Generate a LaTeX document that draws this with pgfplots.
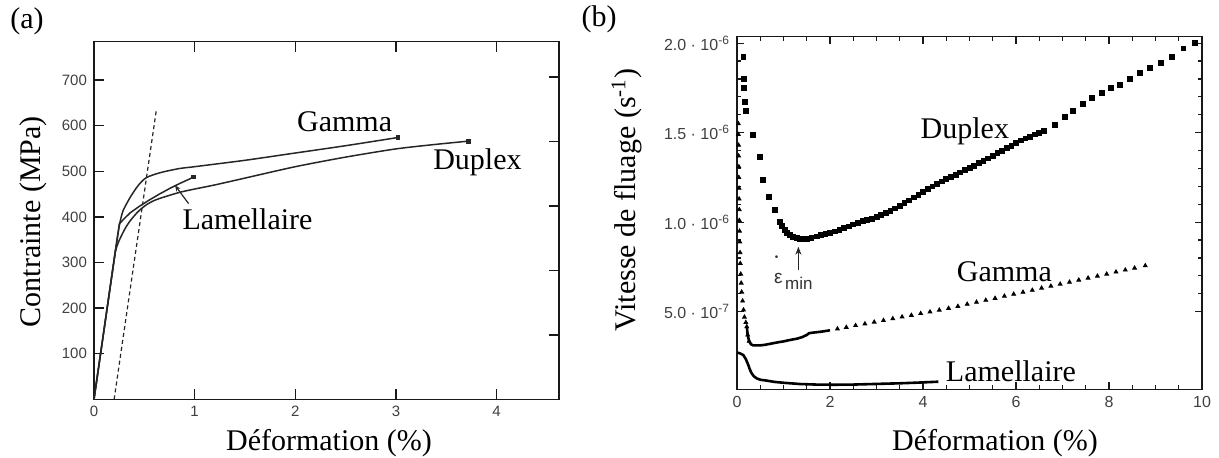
\documentclass[border=0pt]{standalone}
\usepackage{fontspec}
\setmainfont{Liberation Serif}
\setsansfont{Liberation Sans}
\usepackage{pgfplots}
\pgfplotsset{compat=1.18}
\usetikzlibrary{arrows.meta}
\newcommand{\bigtxt}{\fontsize{15}{18}\selectfont}
\begin{document}
\begin{tikzpicture}
\useasboundingbox (0,0) rectangle (609.5pt,228.5pt);
% ---------------- Panel (a) ----------------
\begin{axis}[at={(47pt,28.85pt)}, anchor=south west, scale only axis,
  width=232.5pt, height=178.8pt,
  xmin=0, xmax=4.62, ymin=0, ymax=784,
  xtick={0,1,2,3,4}, ytick={100,200,...,700},
  xtick pos=both, ytick pos=left, tick align=inside,
  major tick length=5pt,
  axis line style={line width=0.7pt, black!90},
  tick style={line width=0.7pt, black!90},
  tick label style={font=\fontsize{7.5}{9}\sffamily\selectfont, text=black!75},
  /pgf/number format/assume math mode=true,
  clip=false]
\addplot[black!85, line width=0.6pt, dashed, dash pattern=on 2pt off 1.5pt] coordinates {(0.2,0) (0.62,635)};
\addplot[black!85, line width=0.75pt, smooth, tension=0.45] coordinates {
(0,0) (0.2,306) (0.24,365) (0.26,390) (0.29,414) (0.36,443) (0.44,469) (0.52,486) (0.66,497) (0.85,506) (1.0,510) (1.5,524) (2.0,540) (2.5,556) (3.02,574)};
\addplot[black!85, line width=0.75pt, smooth, tension=0.45] coordinates {
(0,0) (0.2,306) (0.215,326) (0.235,340) (0.258,352) (0.308,374) (0.358,391) (0.44,412) (0.524,427) (0.6,436) (0.689,443) (0.855,454) (1.0,461) (1.2,470) (1.5,485) (2.0,510) (2.5,531) (3.0,549) (3.4,559) (3.72,566)};
\addplot[black!85, line width=0.75pt] coordinates {
(0,0) (0.2,306) (0.252,385) (0.3,396) (0.36,409) (0.45,423) (0.55,437) (0.65,450) (0.75,462) (0.85,473) (0.95,483) (0.99,488)};
\addplot[only marks, mark=square*, mark size=0.9pt, black!85] coordinates {(3.02,574) (3.72,566) (0.99,488)};
\draw[black!85, line width=0.6pt, -{Stealth[length=3pt,width=2.5pt]}] (axis cs:0.94,429) -- (axis cs:0.805,469);
\node[font=\bigtxt] at (axis cs:2.49,608.6) {Gamma};
\node[font=\bigtxt] at (axis cs:3.81,520.7) {Duplex};
\node[font=\bigtxt] at (axis cs:1.525,395) {Lamellaire};
\end{axis}
% right-side ticks of panel (a)
\begin{axis}[at={(47pt,28.85pt)}, anchor=south west, scale only axis,
  width=232.5pt, height=178.8pt,
  xmin=0, xmax=4.62, ymin=0, ymax=784,
  xtick=\empty, ytick={141.3,282.6,423.9,565.2,706.5}, yticklabels={},
  ytick pos=right, tick align=inside, major tick length=5pt,
  axis line style={draw=none}, tick style={line width=0.7pt, black!90}]
\end{axis}
% ---------------- Panel (b) ----------------
\begin{axis}[at={(368.5pt,33.85pt)}, anchor=south west, scale only axis,
  width=232.5pt, height=176.3pt,
  xmin=0, xmax=10, ymin=0.0665, ymax=2.036,
  xtick={0,2,4,6,8,10}, ytick={0.5,1,1.5,2},
  yticklabels={5.0 · 10\textsuperscript{-7},1.0 · 10\textsuperscript{-6},1.5 · 10\textsuperscript{-6},2.0 · 10\textsuperscript{-6}},
  minor x tick num=3, minor y tick num=4,
  xtick pos=both, ytick pos=both, tick align=inside,
  major tick length=3.5pt, minor tick length=2pt,
  axis line style={line width=0.7pt, black!90},
  tick style={line width=0.6pt, black!90},
  tick label style={font=\fontsize{8}{10}\sffamily\selectfont, text=black!75},
  /pgf/number format/assume math mode=true]
% Lamellaire
\addplot[black, line width=1.3pt, line join=round] coordinates {
(0.01,0.271) (0.06,0.268) (0.135,0.258) (0.19,0.235) (0.243,0.202) (0.28,0.175) (0.315,0.156) (0.36,0.14) (0.42,0.128) (0.5,0.12) (0.64,0.115) (0.8,0.108) (1.0,0.103) (1.355,0.096) (1.7,0.093) (2.07,0.092) (2.5,0.093) (2.79,0.095) (3.2,0.098) (3.5,0.10) (3.9,0.104) (4.33,0.109)};
% Gamma
\addplot[only marks, mark=triangle*, mark size=1.1pt, black] coordinates {
(0.03,1.55) (0.03,1.49) (0.035,1.43) (0.035,1.37) (0.04,1.31) (0.04,1.25) (0.045,1.19) (0.045,1.13) (0.05,1.07) (0.05,1.01) (0.055,0.95) (0.06,0.89) (0.065,0.83) (0.07,0.77) (0.08,0.71) (0.09,0.66) (0.1,0.61) (0.12,0.56) (0.14,0.51) (0.16,0.47) (0.19,0.44) (0.21,0.416) (0.23,0.37) (0.26,0.335)};
\addplot[black, line width=1.3pt, line join=round] coordinates {
(0.21,0.416) (0.23,0.37) (0.26,0.335) (0.3,0.318) (0.35,0.312) (0.4,0.312) (0.5,0.312) (0.6,0.315) (0.7,0.32) (0.8,0.325) (0.9,0.33) (1.0,0.334) (1.1,0.34) (1.2,0.345) (1.3,0.35) (1.4,0.358) (1.5,0.37) (1.55,0.38) (1.6,0.382) (1.7,0.385) (1.8,0.388) (1.9,0.392) (2.0,0.396)};
\addplot[only marks, mark=triangle*, mark size=1.1pt, black] coordinates {
(2.16,0.404) (2.35,0.413) (2.55,0.423) (2.75,0.432) (2.95,0.442) (3.15,0.451) (3.35,0.461) (3.55,0.471) (3.75,0.48) (3.95,0.49) (4.15,0.499) (4.35,0.509) (4.55,0.519) (4.75,0.53) (4.95,0.542) (5.15,0.553) (5.35,0.564) (5.55,0.575) (5.75,0.587) (5.95,0.598) (6.15,0.609) (6.35,0.62) (6.55,0.632) (6.75,0.643) (6.95,0.654) (7.15,0.665) (7.35,0.677) (7.55,0.688) (7.75,0.699) (7.95,0.71) (8.15,0.722) (8.35,0.733) (8.55,0.744) (8.78,0.757)};
% Duplex
\addplot[only marks, mark=square*, mark size=1.2pt, black] coordinates {
(0.136,1.925) (0.15,1.80) (0.15,1.75) (0.17,1.67) (0.19,1.62) (0.34,1.487) (0.49,1.363) (0.55,1.236) (0.69,1.143) (0.82,1.068) (0.92,1.003) (0.97,0.98) (1.03,0.956) (1.08,0.94) (1.14,0.928) (1.2,0.918) (1.28,0.91) (1.35,0.906) (1.42,0.906) (1.5,0.908) (1.6,0.914) (1.71,0.921) (1.8,0.927) (1.9,0.933) (2.0,0.939) (2.1,0.948) (2.2,0.957) (2.3,0.966) (2.4,0.976) (2.5,0.988) (2.6,0.998) (2.7,1.005) (2.8,1.013) (2.9,1.02) (3.0,1.03) (3.1,1.042) (3.2,1.052) (3.3,1.064) (3.4,1.077) (3.5,1.09) (3.6,1.106) (3.7,1.122) (3.8,1.138) (3.9,1.154) (4.0,1.168) (4.1,1.184) (4.2,1.2) (4.3,1.215) (4.4,1.228) (4.5,1.24) (4.6,1.253) (4.7,1.265) (4.8,1.278) (4.9,1.29) (5.0,1.303) (5.1,1.316) (5.2,1.329) (5.3,1.342) (5.4,1.356) (5.5,1.37) (5.6,1.385) (5.7,1.399) (5.8,1.413) (5.9,1.428) (6.0,1.443) (6.1,1.457) (6.2,1.468) (6.3,1.478) (6.4,1.49) (6.5,1.5) (6.6,1.512) (6.84,1.543) (7.05,1.586) (7.23,1.621) (7.43,1.659) (7.63,1.692) (7.84,1.72) (8.04,1.748) (8.24,1.766) (8.45,1.80) (8.67,1.832) (8.88,1.863) (9.12,1.891) (9.35,1.921) (9.6,1.971) (9.85,2.0)};
\draw[black!85, line width=0.6pt, -{Stealth[length=4pt,width=3pt]}] (axis cs:1.32,0.733) -- (axis cs:1.32,0.863);
\node[font=\fontsize{9.5}{11}\sffamily\selectfont, text=black!80, inner sep=0pt] at (axis cs:0.89,0.687) {ε};
\node[font=\fontsize{8.5}{10}\sffamily\selectfont, text=black!80, inner sep=0pt] at (axis cs:1.33,0.657) {min};
\node[font=\fontsize{5}{6}\sffamily\selectfont, text=black!80, inner sep=0pt] at (axis cs:0.853,0.798) {•};
\node[font=\bigtxt] at (axis cs:4.90,1.506) {Duplex};
\node[font=\bigtxt] at (axis cs:5.75,0.723) {Gamma};
\node[font=\bigtxt] at (axis cs:5.89,0.165) {Lamellaire};
\end{axis}
% ---------------- Texts ----------------
\node[font=\bigtxt] at (13.5pt,218pt) {(a)};
\node[font=\bigtxt] at (299.5pt,218.75pt) {(b)};
\node[font=\bigtxt, rotate=90] at (16.5pt,117.65pt) {Contrainte (MPa)};
\node[font=\bigtxt] at (164.5pt,7pt) {Déformation (\%)};
\node[font=\bigtxt, rotate=90] at (313.5pt,128.5pt) {Vitesse de fluage (s\textsuperscript{-1})};
\node[font=\bigtxt] at (497.5pt,7pt) {Déformation (\%)};
\end{tikzpicture}
\end{document}
